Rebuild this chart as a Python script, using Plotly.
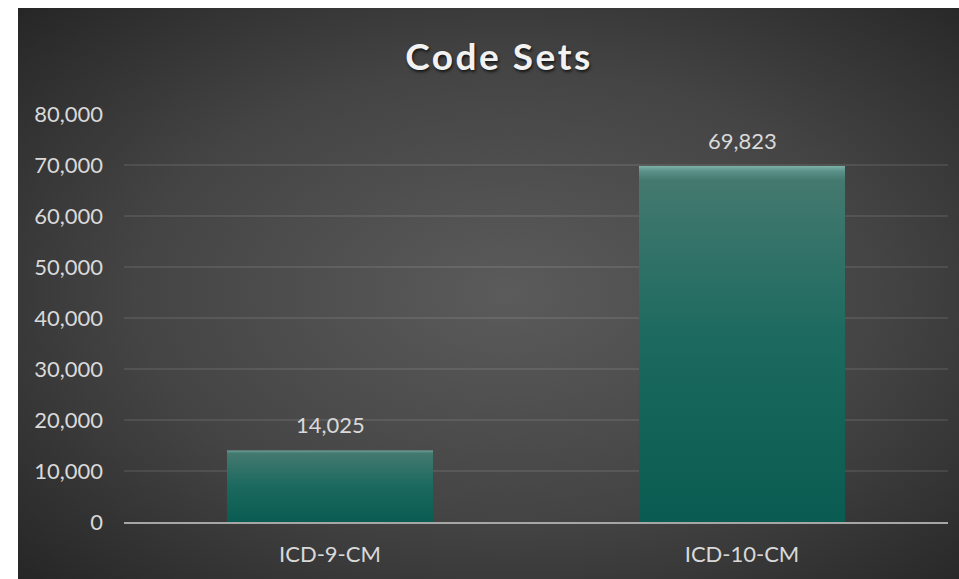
import base64
import plotly.graph_objects as go

# ---- data ----
categories = ["ICD-9-CM", "ICD-10-CM"]
code_counts = [14025, 69823]
y_tick_values = [0, 10000, 20000, 30000, 40000, 50000, 60000, 70000, 80000]
chart_title = "Code Sets"

FONT = "Lato, 'Open Sans', sans-serif"
TEXT_COLOR = "#d9d9d9"

# radial background gradient as an SVG image
bg_svg = (
    '<svg xmlns="http://www.w3.org/2000/svg" width="941" height="571" '
    'viewBox="0 0 941 571" preserveAspectRatio="none">'
    '<defs><radialGradient id="g" cx="52%" cy="50%" r="72%">'
    '<stop offset="0" stop-color="#5b5b5b"/>'
    '<stop offset="0.55" stop-color="#444444"/>'
    '<stop offset="1" stop-color="#262626"/>'
    '</radialGradient></defs>'
    '<rect width="941" height="571" fill="url(#g)"/></svg>'
)
bg_src = "data:image/svg+xml;base64," + base64.b64encode(bg_svg.encode()).decode()

W, H = 941, 571
ML, MR, MT, MB = 106, 11, 106, 57
pw = W - ML - MR
ph = H - MT - MB

fig = go.Figure()
fig.add_trace(go.Bar(
    x=categories,
    y=code_counts,
    width=0.5,
    marker=dict(color="#17675d", line=dict(width=0)),
    hoverinfo="x+y",
))

for c, v in zip(categories, code_counts):
    fig.add_annotation(
        x=c, y=v, text=f"{v:,}", showarrow=False,
        yanchor="bottom", yshift=10,
        font=dict(family=FONT, size=22, color=TEXT_COLOR),
    )

fig.add_layout_image(dict(
    source=bg_src, xref="paper", yref="paper",
    x=-ML / pw, y=1 + MT / ph,
    sizex=W / pw, sizey=H / ph,
    xanchor="left", yanchor="top",
    sizing="stretch", layer="below",
))

fig.update_layout(
    width=W, height=H,
    margin=dict(l=ML, r=MR, t=MT, b=MB, pad=0),
    paper_bgcolor="#333333",
    plot_bgcolor="rgba(0,0,0,0)",
    showlegend=False,
    bargap=0.5,
    title=dict(
        text=chart_title,
        x=481 / W, xanchor="center",
        y=1 - 49 / H, yanchor="middle",
        xref="container", yref="container",
        font=dict(family=FONT, size=37, color="#f2f2f2", weight="bold",
                  shadow="1px 2px 3px rgba(0,0,0,0.7)"),
    ),
    xaxis=dict(
        showgrid=False, zeroline=False,
        showline=True, linecolor="#a6a6a6", linewidth=2,
        ticks="", ticklabelstandoff=12,
        tickfont=dict(family=FONT, size=22, color=TEXT_COLOR),
        fixedrange=True,
    ),
    yaxis=dict(
        range=[0, 80000], tickvals=y_tick_values, tickformat=",d",
        showgrid=True, gridcolor="rgba(255,255,255,0.09)", gridwidth=1.5,
        zeroline=False, showline=False, ticks="", ticklabelstandoff=20,
        tickfont=dict(family=FONT, size=22, color=TEXT_COLOR),
        fixedrange=True,
    ),
    font=dict(family=FONT, color=TEXT_COLOR),
)

post_js = """
var gd = document.getElementById('{plot_id}');
document.body.style.margin = '8px 0 0 18px';
document.body.style.overflow = 'hidden';
function applyStyle(){
  var svg = gd.querySelector('svg.main-svg');
  if(!svg) return;
  var ns = 'http://www.w3.org/2000/svg';
  if(!document.getElementById('barGrad')){
    var defs = svg.querySelector('defs');
    if(!defs){ defs = document.createElementNS(ns,'defs'); svg.insertBefore(defs, svg.firstChild); }
    var lg = document.createElementNS(ns,'linearGradient');
    lg.setAttribute('id','barGrad');
    lg.setAttribute('x1','0'); lg.setAttribute('y1','0');
    lg.setAttribute('x2','0'); lg.setAttribute('y2','1');
    var stops = [[0,'#7db3a9'],[0.015,'#5a9188'],[0.04,'#44796f'],[0.5,'#1b695f'],[1,'#0a5b51']];
    stops.forEach(function(s){
      var st = document.createElementNS(ns,'stop');
      st.setAttribute('offset', s[0]); st.setAttribute('stop-color', s[1]);
      lg.appendChild(st);
    });
    defs.appendChild(lg);
  }
  gd.querySelectorAll('.trace.bars .point path').forEach(function(p){ p.style.fill = 'url(#barGrad)'; });
  gd.querySelectorAll('.gtitle').forEach(function(t){ t.style.letterSpacing = '2.5px'; });
}
applyStyle();
if (gd.on) gd.on('plotly_afterplot', applyStyle);
"""

fig.write_html("out.html", post_script=post_js, config=dict(displayModeBar=False))
